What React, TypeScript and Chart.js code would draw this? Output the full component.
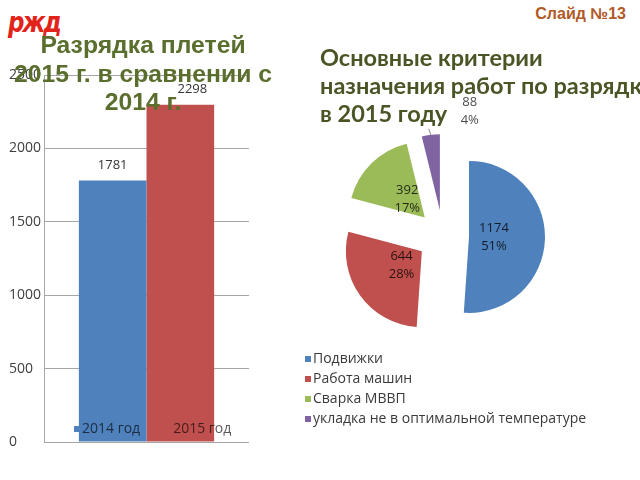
import React, { useEffect, useRef } from "react";
import { Chart, registerables } from "chart.js";

Chart.register(...registerables);

// ---------- data ----------
const barSeries = ["2014 год", "2015 год"];
const barValues = [1781, 2298];
const barColors = ["#4f81bd", "#c0504d"];
const yTicks = [0, 500, 1000, 1500, 2000, 2500];

const pieLabels = [
  "Подвижки",
  "Работа машин",
  "Сварка МВВП",
  "укладка не в оптимальной температуре",
];
const pieValues = [1174, 644, 392, 88];
const pieColors = ["#4f81bd", "#c0504d", "#9bbb59", "#8064a2"];

const leftTitle = ["Разрядка плетей", "2015 г. в сравнении с", "2014 г."];
const rightTitle = ["Основные критерии", "назначения работ по разрядке", "в 2015 году"];
const slideLabel = "Слайд №13";
const logoText = "ржд";

// ---------- styles ----------
const FONT = "'Open Sans', sans-serif";
const EXPLODE = 26;
const PIE_RADIUS = 76;

const barExtras = {
  id: "barExtras",
  afterDatasetsDraw(chart: any) {
    const ctx = chart.ctx;
    ctx.save();
    ctx.textAlign = "center";
    ctx.textBaseline = "middle";
    ctx.font = `13px ${FONT}`;
    ctx.fillStyle = "#333333";
    chart.data.datasets.forEach((ds: any, i: number) => {
      const meta = chart.getDatasetMeta(i);
      meta.data.forEach((bar: any, j: number) => {
        const dx = i === 1 ? 12 : 0;
        ctx.fillText(String(ds.data[j]), bar.x + dx, bar.y - 15);
      });
    });
    // legend inside plot area
    const ca = chart.chartArea;
    ctx.font = `14px ${FONT}`;
    ctx.textAlign = "left";
    let x = ca.left + 30;
    const y = ca.bottom - 13;
    chart.data.datasets.forEach((ds: any) => {
      ctx.fillStyle = ds.backgroundColor;
      ctx.fillRect(x, y - 3, 6, 6);
      ctx.fillStyle = "rgba(0,0,0,0.65)";
      ctx.fillText(ds.label, x + 8, y);
      x += 8 + ctx.measureText(ds.label).width + 25;
    });
    ctx.restore();
  },
};

const pieExtras = {
  id: "pieExtras",
  beforeDatasetDraw(chart: any, args: any) {
    const ctx = chart.ctx;
    args.meta.data.forEach((arc: any) => {
      const mid = (arc.startAngle + arc.endAngle) / 2;
      ctx.save();
      ctx.translate(Math.cos(mid) * EXPLODE, Math.sin(mid) * EXPLODE);
      arc.draw(ctx);
      ctx.restore();
    });
    return false;
  },
  afterDatasetsDraw(chart: any) {
    const ctx = chart.ctx;
    const ds = chart.data.datasets[0];
    const total = ds.data.reduce((a: number, b: number) => a + b, 0);
    const meta = chart.getDatasetMeta(0);
    ctx.save();
    ctx.font = `13px ${FONT}`;
    ctx.textAlign = "center";
    ctx.textBaseline = "middle";
    meta.data.forEach((arc: any, i: number) => {
      const v = ds.data[i];
      const pct = Math.round((v / total) * 100);
      const mid = (arc.startAngle + arc.endAngle) / 2;
      const cx = Math.cos(mid);
      const cy = Math.sin(mid);
      const ax = arc.x + cx * EXPLODE;
      const ay = arc.y + cy * EXPLODE;
      let tx: number;
      let ty: number;
      if (pct >= 5) {
        tx = ax + cx * 25;
        ty = ay + cy * 25;
        ctx.fillStyle = "rgba(0,0,0,0.78)";
      } else {
        const ox = ax + cx * arc.outerRadius;
        const oy = ay + cy * arc.outerRadius;
        ctx.strokeStyle = "#8a8a8a";
        ctx.lineWidth = 1;
        ctx.beginPath();
        ctx.moveTo(ox, oy);
        ctx.lineTo(ox - 2, oy - 6);
        ctx.stroke();
        tx = ox + 39;
        ty = oy - 23;
        ctx.fillStyle = "rgba(0,0,0,0.72)";
      }
      ctx.fillText(String(v), tx, ty - 9);
      ctx.fillText(pct + "%", tx, ty + 9);
    });
    // legend below pie
    ctx.textAlign = "left";
    ctx.font = `14px ${FONT}`;
    const lx = 5;
    const ly = 269;
    chart.data.labels.forEach((lab: string, i: number) => {
      const y = ly + i * 20;
      ctx.fillStyle = ds.backgroundColor[i];
      ctx.fillRect(lx, y - 3, 6, 6);
      ctx.fillStyle = "#3a3a3a";
      ctx.fillText(lab, lx + 8, y);
    });
    ctx.restore();
  },
};

export default function App() {
  const barRef = useRef<HTMLCanvasElement | null>(null);
  const pieRef = useRef<HTMLCanvasElement | null>(null);

  useEffect(() => {
    const barChart = new Chart(barRef.current as HTMLCanvasElement, {
      type: "bar",
      data: {
        labels: [""],
        datasets: barSeries.map((s, i) => ({
          label: s,
          data: [barValues[i]],
          backgroundColor: barColors[i],
          borderWidth: 0,
          categoryPercentage: 0.66,
          barPercentage: 1,
        })),
      },
      options: {
        responsive: false,
        animation: false,
        layout: { padding: { top: 15, bottom: 18, left: 9, right: 13 } },
        plugins: { legend: { display: false }, tooltip: { enabled: false } },
        scales: {
          x: { display: false },
          y: {
            min: 0,
            max: 2500,
            afterBuildTicks: (s: any) => {
              s.ticks = yTicks.map((v) => ({ value: v }));
            },
            afterFit: (s: any) => {
              s.width = 35;
            },
            ticks: {
              crossAlign: "far",
              padding: 0,
              color: "#404040",
              font: { family: FONT, size: 14 },
              callback: (v: any) => String(v),
            },
            grid: { color: "#a6a6a6", drawTicks: false },
            border: { color: "#a6a6a6" },
          },
        },
      } as any,
      plugins: [barExtras],
    });

    const pieChart = new Chart(pieRef.current as HTMLCanvasElement, {
      type: "pie",
      data: {
        labels: pieLabels,
        datasets: [
          {
            data: pieValues,
            backgroundColor: pieColors,
            borderWidth: 0,
            radius: PIE_RADIUS,
          } as any,
        ],
      },
      options: {
        responsive: false,
        animation: false,
        layout: { padding: { top: 0, bottom: 58, left: 0, right: 0 } },
        plugins: { legend: { display: false }, tooltip: { enabled: false } },
      } as any,
      plugins: [pieExtras],
    });

    return () => {
      barChart.destroy();
      pieChart.destroy();
    };
  }, []);

  return (
    <div
      style={{
        position: "absolute",
        left: 0,
        top: 0,
        width: 640,
        height: 480,
        background: "#ffffff",
        overflow: "hidden",
      }}
    >
      <div style={{ position: "absolute", left: 0, top: 60, width: 262, height: 400 }}>
        <canvas ref={barRef} width={262} height={400} style={{ width: 262, height: 400 }} />
      </div>
      <div style={{ position: "absolute", left: 300, top: 90, width: 286, height: 350 }}>
        <canvas ref={pieRef} width={286} height={350} style={{ width: 286, height: 350 }} />
      </div>
      <div
        style={{
          position: "absolute",
          left: 8,
          top: 6,
          color: "#e2231a",
          font: "italic bold 23px 'DejaVu Sans', sans-serif",
          letterSpacing: -2,
          lineHeight: "28px",
          transform: "scaleY(1.2)",
          transformOrigin: "left top",
        }}
      >
        {logoText}
      </div>
      <div
        style={{
          position: "absolute",
          right: 14,
          top: 4,
          color: "#b05a28",
          font: "bold 16px 'Liberation Sans', Arial, sans-serif",
          lineHeight: "20px",
        }}
      >
        {slideLabel}
      </div>
      <div
        style={{
          position: "absolute",
          left: 0,
          top: 31,
          width: 286,
          textAlign: "center",
          color: "#5a6e2d",
          font: "bold 23px 'Liberation Sans', Arial, sans-serif",
          lineHeight: "28.5px",
          whiteSpace: "nowrap",
          transform: "scaleX(1.075)",
          transformOrigin: "143px 0",
        }}
      >
        {leftTitle.map((t, i) => (
          <div key={i}>{t}</div>
        ))}
      </div>
      <div
        style={{
          position: "absolute",
          left: 320,
          top: 43,
          color: "#4a5526",
          font: "bold 23.5px Lato, sans-serif",
          lineHeight: "28px",
          whiteSpace: "nowrap",
        }}
      >
        {rightTitle.map((t, i) => (
          <div key={i}>{t}</div>
        ))}
      </div>
    </div>
  );
}
